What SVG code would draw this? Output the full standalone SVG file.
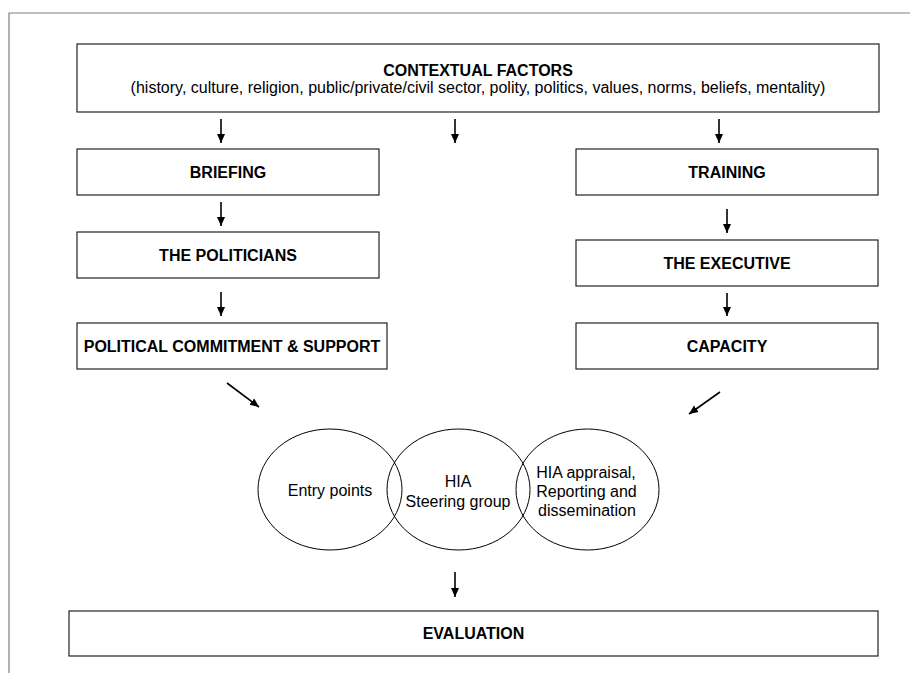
<svg xmlns="http://www.w3.org/2000/svg" width="910" height="673" viewBox="0 0 910 673">
<style>
.box{fill:#fff;stroke:#222;stroke-width:1.2}
.circ{fill:none;stroke:#000;stroke-width:1}
.b{font-family:"Liberation Sans",Arial,sans-serif;font-size:16px;font-weight:bold;text-anchor:middle;fill:#000}
.r{font-family:"Liberation Sans",Arial,sans-serif;font-size:16px;text-anchor:middle;fill:#000}
.arr{stroke:#000;stroke-width:1.6;fill:none;marker-end:url(#ah)}
.frame{stroke:#808080;stroke-width:1.2;fill:none}
</style>
<defs>
<marker id="ah" markerUnits="userSpaceOnUse" markerWidth="10" markerHeight="10" viewBox="0 0 10 10" refX="9" refY="5" orient="auto">
<path d="M0,1 L9,5 L0,9 Z" fill="#000"/>
</marker>
</defs>
<rect width="910" height="673" fill="#fff"/>
<path class="frame" d="M9,673 V13 H910"/>
<g id="contextual">
<rect class="box" x="77" y="44" width="802" height="68"/>
<text class="b" x="478" y="76">CONTEXTUAL FACTORS</text>
<text class="r" x="478" y="93">(history, culture, religion, public/private/civil sector, polity, politics, values, norms, beliefs, mentality)</text>
</g>
<g id="briefing">
<rect class="box" x="77" y="149" width="302" height="46"/>
<text class="b" x="228" y="178">BRIEFING</text>
</g>
<g id="politicians">
<rect class="box" x="77" y="232" width="302" height="46"/>
<text class="b" x="228" y="261">THE POLITICIANS</text>
</g>
<g id="commitment">
<rect class="box" x="77" y="323" width="310" height="46"/>
<text class="b" x="232" y="352">POLITICAL COMMITMENT &amp; SUPPORT</text>
</g>
<g id="training">
<rect class="box" x="576" y="149" width="302" height="46"/>
<text class="b" x="727" y="178">TRAINING</text>
</g>
<g id="executive">
<rect class="box" x="576" y="240" width="302" height="46"/>
<text class="b" x="727" y="269">THE EXECUTIVE</text>
</g>
<g id="capacity">
<rect class="box" x="576" y="323" width="302" height="46"/>
<text class="b" x="727" y="352">CAPACITY</text>
</g>
<g id="entry">
<ellipse class="circ" cx="330" cy="489.5" rx="72" ry="60.5"/>
<text class="r" x="330" y="496">Entry points</text>
</g>
<g id="steering">
<ellipse class="circ" cx="458.5" cy="489.5" rx="71.5" ry="60.5"/>
<text class="r" x="458" y="487">HIA</text>
<text class="r" x="458" y="506.5">Steering group</text>
</g>
<g id="appraisal">
<ellipse class="circ" cx="587.5" cy="489.5" rx="71.5" ry="60.5"/>
<text class="r" x="586" y="478">HIA appraisal,</text>
<text class="r" x="586.5" y="497">Reporting and</text>
<text class="r" x="587" y="515.5">dissemination</text>
</g>
<g id="evaluation">
<rect class="box" x="69" y="611" width="809" height="45"/>
<text class="b" x="473.5" y="639">EVALUATION</text>
</g>
<g id="connectors">
<line class="arr" x1="221" y1="119" x2="221" y2="143"/>
<line class="arr" x1="455" y1="119" x2="455" y2="143"/>
<line class="arr" x1="719" y1="119" x2="719" y2="143"/>
<line class="arr" x1="221" y1="202" x2="221" y2="226"/>
<line class="arr" x1="221" y1="292" x2="221" y2="316"/>
<line class="arr" x1="727" y1="209" x2="727" y2="233"/>
<line class="arr" x1="727" y1="293" x2="727" y2="316"/>
<line class="arr" x1="227" y1="383" x2="259" y2="407"/>
<line class="arr" x1="720" y1="392" x2="689" y2="414"/>
<line class="arr" x1="455" y1="572" x2="455" y2="597"/>
</g>
</svg>
